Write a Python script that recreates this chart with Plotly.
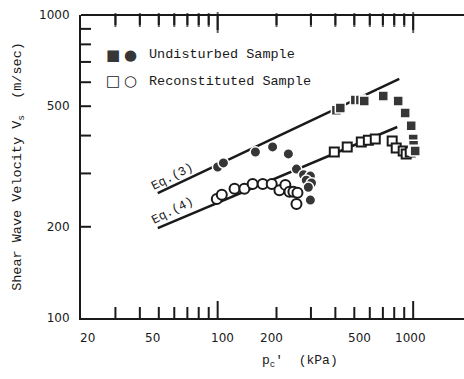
import plotly.graph_objects as go
import numpy as np

# ---- data ----
und_circ_x = [100, 107, 156, 191, 230, 253, 275, 298, 284, 302, 291, 298]
und_circ_y = [315, 325, 353, 367, 348, 310, 297, 294, 285, 279, 270, 245]

und_sq_x = [405, 424, 506, 537, 562, 703, 838, 910, 977, 1000, 1005, 1012, 1024]
und_sq_y = [485, 493, 524, 524, 520, 540, 520, 475, 431, 390, 372, 358, 356]

rec_circ_x = [99, 105, 122, 137, 151, 170, 189, 207, 222, 233, 244, 256, 253]
rec_circ_y = [247, 255, 267, 267, 277, 277, 277, 264, 275, 261, 261, 259, 238]

rec_sq_x = [395, 460, 543, 590, 640, 781, 819, 889, 921, 966]
rec_sq_y = [353, 367, 381, 386, 390, 384, 364, 356, 348, 353]

eq3_x = [49.4, 849]
eq3_y = [258.5, 615]
eq4_x = [49.4, 829]
eq4_y = [198, 427]

x_label_vals = [20, 50, 100, 200, 500, 1000]
x_label_shift = [6, -6, 5, -5, 5, -3]
x_major_vals = [100, 1000]
x_minor_vals = [30, 40, 50, 60, 70, 80, 90, 200, 300, 400, 500, 600, 700, 800, 900]
y_tick_vals = [100, 200, 300, 400, 500, 600, 700, 800, 900, 1000]
y_tick_text = ["100", "200", "", "", "500", "", "", "", "", "1000"]

X_MIN, X_MAX = 20, 10 ** 3.26
Y_MIN, Y_MAX = 100, 1000
XR = [np.log10(X_MIN), np.log10(X_MAX)]
YR = [np.log10(Y_MIN), np.log10(Y_MAX)]
INK = "#1a1a1a"
FILL = "#363636"
MONO = "Liberation Mono"
SANS = "DejaVu Sans"
PLOT_W, PLOT_H = 383, 303
X_PER_PX = (XR[1] - XR[0]) / PLOT_W
Y_PER_PX = (YR[1] - YR[0]) / PLOT_H

fig = go.Figure()

x_tick_all = x_minor_vals + x_major_vals
len_bot = [17 if v in x_major_vals else 11 for v in x_tick_all]
len_top = [15 if v in x_major_vals else 10 for v in x_tick_all]
y_inner = y_tick_vals[1:-1]

def seg_trace(xs, ys):
    return go.Scatter(x=xs, y=ys, mode="lines", line=dict(color=INK, width=2, simplify=False),
                      showlegend=False, hoverinfo="skip", cliponaxis=False, connectgaps=False)

bx, by, tx_, ty_ = [], [], [], []
for v, lb, lt in zip(x_tick_all, len_bot, len_top):
    bx += [v, v, None]
    by += [Y_MIN, Y_MIN * 10 ** (lb * Y_PER_PX), None]
    tx_ += [v, v, None]
    ty_ += [Y_MAX / 10 ** (lt * Y_PER_PX), Y_MAX, None]
fig.add_trace(seg_trace(bx, by))
fig.add_trace(seg_trace(tx_, ty_))
fig.add_trace(go.Scatter(
    x=x_tick_all, y=[Y_MAX / 10 ** (l / 2 * Y_PER_PX) for l in len_top], mode="markers",
    marker=dict(symbol="line-ns", size=len_top, line=dict(color=INK, width=2)),
    showlegend=False, hoverinfo="skip", cliponaxis=False))

for xs, ys in [(eq3_x, eq3_y), (eq4_x, eq4_y)]:
    fig.add_trace(go.Scatter(x=xs, y=ys, mode="lines",
                             line=dict(color=INK, width=2.5), showlegend=False, hoverinfo="skip"))

fig.add_trace(go.Scatter(x=rec_circ_x, y=rec_circ_y, mode="markers", showlegend=False,
                         marker=dict(symbol="circle", size=10, color="white",
                                     line=dict(color=INK, width=2))))
fig.add_trace(go.Scatter(x=rec_sq_x, y=rec_sq_y, mode="markers", showlegend=False,
                         marker=dict(symbol="square", size=9, color="white",
                                     line=dict(color=INK, width=2))))
fig.add_trace(go.Scatter(x=und_circ_x, y=und_circ_y, mode="markers", showlegend=False,
                         marker=dict(symbol="circle", size=10.5, color=FILL,
                                     line=dict(color="white", width=1.5))))
fig.add_trace(go.Scatter(x=und_sq_x, y=und_sq_y, mode="markers", showlegend=False,
                         marker=dict(symbol="square", size=10, color=FILL,
                                     line=dict(color="white", width=1.5))))

# frame line on top and left-axis inward ticks as page-relative lines
shapes = [dict(type="line", xref="paper", yref="paper", x0=0, x1=1, y0=1, y1=1,
               line=dict(color=INK, width=2))]
for v in y_inner:
    py = (np.log10(v) - YR[0]) / (YR[1] - YR[0])
    shapes.append(dict(type="line", xref="paper", yref="paper", x0=-1 / PLOT_W, x1=10 / PLOT_W,
                       y0=py, y1=py, line=dict(color=INK, width=2)))

fig.update_layout(
    template="none",
    width=464, height=379,
    margin=dict(l=81, r=0, t=15, b=61),
    paper_bgcolor="white", plot_bgcolor="white",
    font=dict(family=SANS, color=INK, size=12),
    xaxis=dict(type="log", range=XR, showgrid=False, zeroline=False,
               showline=True, linecolor=INK, linewidth=2,
               tickmode="array", tickvals=x_major_vals, showticklabels=False, ticks=""),
    yaxis=dict(type="log", range=YR, showgrid=False, zeroline=False,
               showline=True, linecolor=INK, linewidth=2,
               tickmode="array", tickvals=y_tick_vals, ticktext=y_tick_text, ticks="",
               ticklabelstandoff=7,
               tickfont=dict(family=SANS, size=12, color=INK)),
    shapes=shapes,
)

ann = []
for v, sh in zip(x_label_vals, x_label_shift):
    ann.append(dict(x=np.log10(v), xref="x", y=-0.035, yref="paper", text=str(v), showarrow=False,
                    xshift=sh, xanchor="center", yanchor="top",
                    font=dict(family=SANS, size=12, color=INK)))
ann.append(dict(xref="paper", yref="paper", x=0.0836, y=0.868, text="■", showarrow=False,
                font=dict(family=SANS, size=15, color=FILL), xanchor="center", yanchor="middle"))
ann.append(dict(xref="paper", yref="paper", x=0.1305, y=0.868, text="●", showarrow=False,
                font=dict(family=SANS, size=15, color=FILL), xanchor="center", yanchor="middle"))
ann.append(dict(xref="paper", yref="paper", x=0.0836, y=0.782, text="□", showarrow=False,
                font=dict(family=SANS, size=15, color=INK), xanchor="center", yanchor="middle"))
ann.append(dict(xref="paper", yref="paper", x=0.1305, y=0.782, text="○", showarrow=False,
                font=dict(family=SANS, size=15, color=INK), xanchor="center", yanchor="middle"))
ann.append(dict(xref="paper", yref="paper", x=0.172, y=0.868, text="Undisturbed Sample",
                showarrow=False, font=dict(family=MONO, size=13.5, color=INK),
                xanchor="left", yanchor="middle"))
ann.append(dict(xref="paper", yref="paper", x=0.172, y=0.782, text="Reconstituted Sample",
                showarrow=False, font=dict(family=MONO, size=13.5, color=INK),
                xanchor="left", yanchor="middle"))
ann.append(dict(x=np.log10(59), y=np.log10(292), text="Eq.(3)", showarrow=False, textangle=-27,
                font=dict(family=MONO, size=12.5, color=INK)))
ann.append(dict(x=np.log10(59), y=np.log10(226), text="Eq.(4)", showarrow=False, textangle=-27,
                font=dict(family=MONO, size=12.5, color=INK)))
ann.append(dict(xref="paper", yref="paper", x=-0.162, y=0.502,
                text="Shear Wave Velocity V<sub>s</sub>  (m/sec)", showarrow=False, textangle=-90,
                font=dict(family=MONO, size=13.5, color=INK), xanchor="center", yanchor="middle"))
ann.append(dict(xref="paper", yref="paper", x=0.572, y=-0.145,
                text="p<sub>c</sub>'  (kPa)", showarrow=False,
                font=dict(family=MONO, size=13, color=INK), xanchor="center", yanchor="middle"))
fig.update_layout(annotations=ann)

fig.write_html("out.html")
